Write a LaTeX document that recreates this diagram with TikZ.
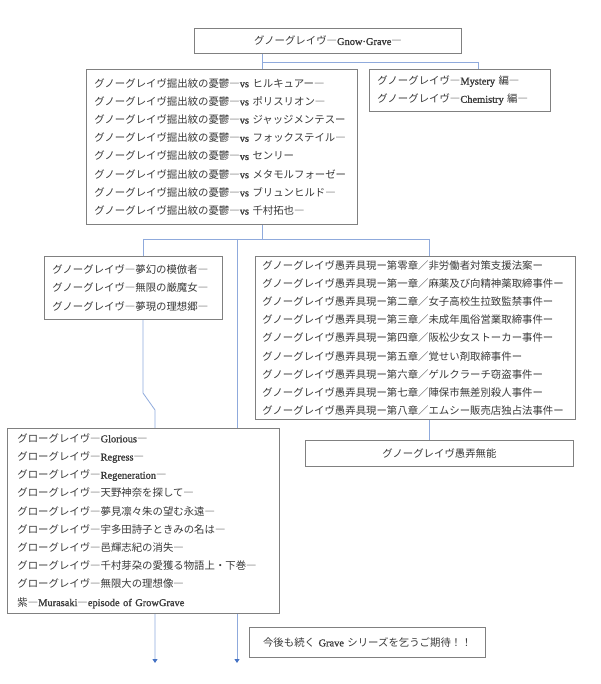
\documentclass[tikz,border=0pt]{standalone}
\usepackage{fontspec}
\setmainfont{Noto Sans CJK JP}
\newfontfamily\enfont[FakeBold=1.2]{Liberation Serif}
\usepackage{xcolor}
\usepackage{tikz}
\usetikzlibrary{positioning, arrows.meta, backgrounds}
\definecolor{boxgray}{HTML}{808080}
\definecolor{textgray}{HTML}{3A3A3A}
\definecolor{linkblue}{HTML}{8FAADC}
\definecolor{tipblue}{HTML}{4472C4}
\newcommand{\en}[1]{{\enfont #1}}

\begin{document}
\begin{tikzpicture}[x=1pt, y=-1pt,
    box/.style={draw=boxgray, fill=white, line width=0.8pt, rectangle,
        anchor=north west, inner xsep=8pt, inner ysep=0pt, align=left,
        text=textgray, font=\fontsize{10.4}{18.2}\selectfont},
    link/.style={draw=linkblue, line width=0.8pt},
    tolink/.style={link, -{Triangle[width=5pt, length=4pt, color=tipblue]}}]
\useasboundingbox (0,0) rectangle (600,684);
% Boxes
\node[box, align=center, text width=251pt, minimum height=25pt] (top) at (194,28)
    {グノーグレイヴ―\en{Gnow·Grave}―};
\node[box, text width=255pt, minimum height=155pt] (vs) at (86,69)
    {グノーグレイヴ掘出紋の憂鬱―\en{vs} ヒルキュアー―\\
     グノーグレイヴ掘出紋の憂鬱―\en{vs} ポリスリオン―\\
     グノーグレイヴ掘出紋の憂鬱―\en{vs} ジャッジメンテスー\\
     グノーグレイヴ掘出紋の憂鬱―\en{vs} フォックステイル―\\
     グノーグレイヴ掘出紋の憂鬱―\en{vs} センリー\\
     グノーグレイヴ掘出紋の憂鬱―\en{vs} メタモルフォーゼー\\
     グノーグレイヴ掘出紋の憂鬱―\en{vs} ブリュンヒルド―\\
     グノーグレイヴ掘出紋の憂鬱―\en{vs} 千村拓也―};
\node[box, text width=165pt, minimum height=42pt] (mystery) at (369,69)
    {グノーグレイヴ―\en{Mystery} 編―\\
     グノーグレイヴ―\en{Chemistry} 編―};
\node[box, text width=162pt, minimum height=63pt] (dream) at (44,256)
    {グノーグレイヴ―夢幻の模倣者―\\
     グノーグレイヴ―無限の厳魔女―\\
     グノーグレイヴ―夢現の理想郷―};
\node[box, inner xsep=7pt, text width=306pt, minimum height=163pt] (grou) at (255,256)
    {グノーグレイヴ愚弄具現ー第零章／非労働者対策支援法案ー\\
     グノーグレイヴ愚弄具現ー第一章／麻薬及び向精神薬取締事件ー\\
     グノーグレイヴ愚弄具現ー第二章／女子高校生拉致監禁事件ー\\
     グノーグレイヴ愚弄具現ー第三章／未成年風俗営業取締事件ー\\
     グノーグレイヴ愚弄具現ー第四章／阪松少女ストーカー事件ー\\
     グノーグレイヴ愚弄具現ー第五章／覚せい剤取締事件ー\\
     グノーグレイヴ愚弄具現ー第六章／ゲルクラーチ窃盗事件ー\\
     グノーグレイヴ愚弄具現ー第七章／陣保市無差別殺人事件ー\\
     グノーグレイヴ愚弄具現ー第八章／エムシー販売店独占法事件ー};
\node[box, align=center, text width=252pt, minimum height=26pt] (muno) at (305,440)
    {グノーグレイヴ愚弄無能};
\node[box, inner xsep=10pt, text width=252pt, minimum height=185pt] (grow) at (7,428)
    {グローグレイヴ―\en{Glorious}―\\
     グローグレイヴ―\en{Regress}―\\
     グローグレイヴ―\en{Regeneration}―\\
     グローグレイヴ―天野神奈を探して―\\
     グローグレイヴ―夢見凛々朱の望む永遠―\\
     グローグレイヴ―宇多田詩子ときみの名は―\\
     グローグレイヴ―邑輝志紀の消失―\\
     グローグレイヴ―千村芽朶の愛獲る物語上・下巻―\\
     グローグレイヴ―無限大の理想像―\\
     紫―\en{Murasaki}―\en{episode of GrowGrave}};
\node[box, align=center, text width=220pt, minimum height=30pt] (next) at (249,627)
    {今後も続く \en{Grave} シリーズを乞うご期待！！};
% Junctions
\coordinate (j1) at (262,62);
\coordinate (jb) at (478,62);
\coordinate (j2) at (262,239);
\coordinate (jl) at (143,239);
\coordinate (jm) at (237,239);
\coordinate (jr) at (429,239);
\coordinate (bend1) at (143,393);
\coordinate (bend2) at (155,410);
\coordinate (endl) at (155,663);
\coordinate (endm) at (237,663);
% Connectors
\begin{scope}[on background layer]
\draw[link] (top.south -| j1) -- (vs.north -| j1);
\draw[link] (j1) -- (jb) -- (mystery.north -| jb);
\draw[link] (vs.south -| j2) -- (j2);
\draw[link] (jl) -- (jr);
\draw[link] (jl) -- (dream.north -| jl);
\draw[link] (jr) -- (grou.north -| jr);
\draw[link] (grou.south -| jr) -- (muno.north -| jr);
\draw[tolink] (jm) -- (endm);
\draw[tolink] (dream.south -| jl) -- (bend1) -- (bend2) -- (endl);
\end{scope}
\end{tikzpicture}
\end{document}
